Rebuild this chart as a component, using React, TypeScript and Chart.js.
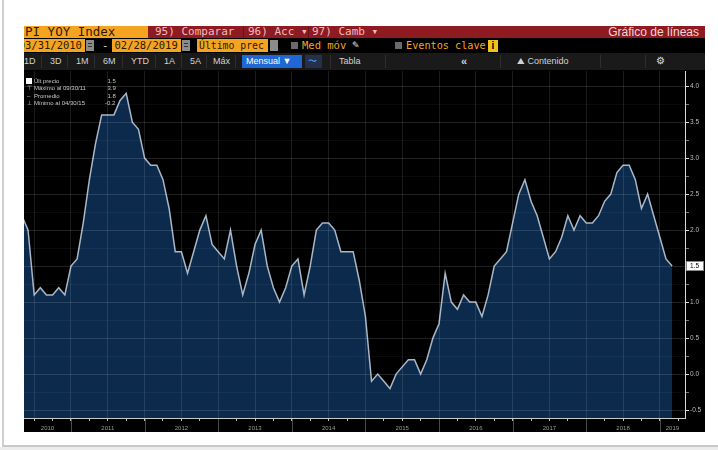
import React, { useEffect, useRef } from 'react';
import { Chart, registerables } from 'chart.js';

Chart.register(...registerables);

// US CPI YoY (%), monthly. First value = Mar 2010 (month index 2, Jan 2010 = 0)
const START_MONTH_INDEX = 2;
const cpi2010 = [2.3, 2.2, 2.0, 1.1, 1.2, 1.1, 1.1, 1.2, 1.1, 1.5];
const cpi2011 = [1.6, 2.1, 2.7, 3.2, 3.6, 3.6, 3.6, 3.8, 3.9, 3.5, 3.4, 3.0];
const cpi2012 = [2.9, 2.9, 2.7, 2.3, 1.7, 1.7, 1.4, 1.7, 2.0, 2.2, 1.8, 1.7];
const cpi2013 = [1.6, 2.0, 1.5, 1.1, 1.4, 1.8, 2.0, 1.5, 1.2, 1.0, 1.2, 1.5];
const cpi2014 = [1.6, 1.1, 1.5, 2.0, 2.1, 2.1, 2.0, 1.7, 1.7, 1.7, 1.3, 0.8];
const cpi2015 = [-0.1, 0.0, -0.1, -0.2, 0.0, 0.1, 0.2, 0.2, 0.0, 0.2, 0.5, 0.7];
const cpi2016 = [1.4, 1.0, 0.9, 1.1, 1.0, 1.0, 0.8, 1.1, 1.5, 1.6, 1.7, 2.1];
const cpi2017 = [2.5, 2.7, 2.4, 2.2, 1.9, 1.6, 1.7, 1.9, 2.2, 2.0, 2.2, 2.1];
const cpi2018 = [2.1, 2.2, 2.4, 2.5, 2.8, 2.9, 2.9, 2.7, 2.3, 2.5, 2.2, 1.9];
const cpi2019 = [1.6, 1.5];

const cpiYoY = [
  ...cpi2010, ...cpi2011, ...cpi2012, ...cpi2013, ...cpi2014,
  ...cpi2015, ...cpi2016, ...cpi2017, ...cpi2018, ...cpi2019,
];

const years = ['2010', '2011', '2012', '2013', '2014', '2015', '2016', '2017', '2018', '2019'];
const yTicks = [-0.5, -0.25, 0, 0.25, 0.5, 0.75, 1.0, 1.25, 1.5, 1.75, 2.0, 2.25, 2.5, 2.75, 3.0, 3.25, 3.5, 3.75, 4.0];

const legendRows = [
  { sym: '', label: 'Últ precio', value: '1.5' },
  { sym: '⊤', label: 'Máximo al 09/30/11', value: '3.9' },
  { sym: '–', label: 'Promedio', value: '1.8' },
  { sym: '⊥', label: 'Mínimo al 04/30/15', value: '-0.2' },
];

const X_MIN = 3.34;
const X_MAX = 111.1;
const Y_MIN = -0.61;
const Y_MAX = 4.21;

const WX = 24;
const WY = 26;
const box = (x: number, y: number, w: number, h: number, extra: React.CSSProperties = {}): React.CSSProperties => ({
  position: 'absolute', left: x - WX, top: y - WY, width: w, height: h, ...extra,
});
const txt = (x: number, y: number, extra: React.CSSProperties = {}): React.CSSProperties => ({
  position: 'absolute', left: x - WX, top: y - WY, whiteSpace: 'nowrap', ...extra,
});

const MONO = '"DejaVu Sans Mono", "Liberation Mono", monospace';
const SANS = '"Liberation Sans", Arial, sans-serif';
const ORANGE = '#f5a422';

const isMajor = (v: number) => Math.abs(v * 2 - Math.round(v * 2)) < 1e-6;

const bbgPlugin = {
  id: 'bbgDecor',
  afterDraw(chart: any) {
    const { ctx, chartArea: a } = chart;
    const x = chart.scales.x;
    const y = chart.scales.y;
    ctx.save();
    ctx.font = `6.5px ${SANS}`;
    ctx.fillStyle = '#bdbdbd';
    ctx.textBaseline = 'middle';
    ctx.textAlign = 'left';
    yTicks.filter(isMajor).forEach((v) => {
      ctx.fillText(v.toFixed(1), a.right + 5, y.getPixelForValue(v));
    });
    const last = cpiYoY[cpiYoY.length - 1];
    const py = Math.round(y.getPixelForValue(last));
    ctx.fillStyle = '#ffffff';
    ctx.fillRect(a.right + 1, py - 5, 18, 10);
    ctx.strokeStyle = '#888';
    ctx.lineWidth = 1;
    ctx.strokeRect(a.right + 1.5, py - 4.5, 17, 9);
    ctx.fillStyle = '#000';
    ctx.fillText(last.toFixed(1), a.right + 5, py + 0.5);
    ctx.strokeStyle = '#4a4a4a';
    years.forEach((_, k) => {
      const v = 11 + 12 * k;
      if (v > x.min && v < x.max) {
        const px = Math.round(x.getPixelForValue(v)) + 0.5;
        ctx.beginPath();
        ctx.moveTo(px, a.bottom + 1);
        ctx.lineTo(px, chart.height);
        ctx.stroke();
      }
    });
    ctx.font = `6px ${SANS}`;
    ctx.fillStyle = '#9a9a9a';
    ctx.textAlign = 'center';
    years.forEach((yr, k) => {
      const s = Math.max(x.min, 12 * k - 1);
      const e = Math.min(x.max, 12 * k + 11);
      if (e <= s) return;
      const cx = (x.getPixelForValue(s) + x.getPixelForValue(e)) / 2;
      ctx.fillText(yr, cx, a.bottom + 10);
    });
    ctx.restore();
  },
};

function BbgChart() {
  const ref = useRef<HTMLCanvasElement | null>(null);
  useEffect(() => {
    if (!ref.current) return;
    const points = cpiYoY.map((v, i) => ({ x: START_MONTH_INDEX + i, y: v }));
    const chart = new Chart(ref.current, {
      type: 'line',
      data: {
        datasets: [
          {
            data: points,
            borderColor: '#a9b7c7',
            borderWidth: 1.5,
            backgroundColor: '#0b2a4c',
            fill: 'start',
            pointRadius: 0,
            tension: 0,
          },
        ],
      },
      options: {
        responsive: false,
        animation: false,
        devicePixelRatio: 1,
        events: [],
        layout: { padding: 0 },
        plugins: { legend: { display: false }, tooltip: { enabled: false } },
        scales: {
          x: {
            type: 'linear',
            min: X_MIN,
            max: X_MAX,
            afterBuildTicks: (s: any) => {
              const t: { value: number }[] = [];
              for (let v = 5; v <= 110; v += 3) t.push({ value: v });
              s.ticks = t;
            },
            afterFit: (s: any) => { s.height = 14; },
            ticks: { display: false },
            grid: {
              z: 1,
              drawTicks: true,
              tickLength: 3,
              color: (c: any) => (c.tick && (c.tick.value - 5) % 6 === 0 ? 'rgba(255,255,255,0.11)' : 'rgba(0,0,0,0)'),
              tickColor: '#bdbdbd',
            },
            border: { display: true, color: '#c9c9c9', z: 2 },
          },
          y: {
            position: 'right',
            min: Y_MIN,
            max: Y_MAX,
            afterBuildTicks: (s: any) => { s.ticks = yTicks.map((v) => ({ value: v })); },
            afterFit: (s: any) => { s.width = 20; },
            ticks: { display: false },
            grid: {
              z: 1,
              drawTicks: true,
              tickLength: 4,
              color: (c: any) => (c.tick && isMajor(c.tick.value) ? 'rgba(255,255,255,0.13)' : 'rgba(255,255,255,0.045)'),
              tickColor: (c: any) => (c.tick && isMajor(c.tick.value) ? '#e0e0e0' : '#7a7a7a'),
            },
            border: { display: true, color: '#d8d8d8', z: 2 },
          },
        },
      } as any,
      plugins: [bbgPlugin],
    });
    return () => chart.destroy();
  }, []);
  return (
    <canvas
      ref={ref}
      width={681}
      height={361}
      style={{ position: 'absolute', left: 0, top: 71 - WY, width: 681, height: 361, background: '#000' }}
    />
  );
}

export default function App() {
  const sep = (x: number) => <div key={'s' + x} style={box(x, 55, 1, 13, { background: '#2e2e2e' })} />;
  const hdr: React.CSSProperties = { font: `11px ${MONO}`, lineHeight: '12px', color: '#f2bcbc' };
  return (
    <div style={{ position: 'absolute', left: 0, top: 0, width: 718, height: 450, background: '#ffffff', overflow: 'hidden' }}>
      <div style={{ position: 'absolute', left: 2, top: 0, width: 2, height: 447, background: '#cfcfcf' }} />
      <div style={{ position: 'absolute', left: 2, top: 445, width: 716, height: 2, background: '#c9c9c9' }} />
      <div style={{ position: 'absolute', left: 0, top: 447, width: 718, height: 3, background: '#ececec' }} />

      <div style={{ position: 'absolute', left: WX, top: WY, width: 681, height: 406, background: '#000', overflow: 'hidden' }}>
        {/* row 1 */}
        <div style={box(24, 26, 124, 12, { background: ORANGE })} />
        <div style={txt(17.5, 26, { font: `12.5px ${MONO}`, lineHeight: '12px', color: '#2a1a00' })}>CPI YOY Index</div>
        <div style={box(148, 26, 557, 12, { background: '#8e1a22' })} />
        <div style={txt(155, 26, hdr)}>95) Comparar</div>
        <div style={box(243, 26, 1, 12, { background: '#6a1016' })} />
        <div style={txt(248, 26, hdr)}>96) Acc ▾</div>
        <div style={box(308, 26, 1, 12, { background: '#6a1016' })} />
        <div style={txt(312, 26, hdr)}>97) Camb ▾</div>
        <div style={txt(586, 26, { font: `12px ${SANS}`, lineHeight: '12px', color: '#f4d6d6', width: 113, textAlign: 'right' })}>Gráfico de líneas</div>

        {/* row 2 */}
        <div style={box(24, 39, 61, 13, { background: ORANGE })} />
        <div style={txt(18.7, 39, { font: `10.5px ${MONO}`, lineHeight: '13px', color: '#2a1a00' })}>03/31/2010</div>
        <div style={box(86, 40, 8, 11, { background: '#8c8c8c' })} />
        <div style={box(88, 43, 4, 1, { background: '#333' })} />
        <div style={box(88, 46, 4, 1, { background: '#333' })} />
        <div style={txt(102, 39, { font: `10.5px ${MONO}`, lineHeight: '13px', color: '#e0e0e0' })}>-</div>
        <div style={box(112, 39, 69, 13, { background: ORANGE })} />
        <div style={txt(114.5, 39, { font: `10.5px ${MONO}`, lineHeight: '13px', color: '#2a1a00' })}>02/28/2019</div>
        <div style={box(182, 40, 8, 11, { background: '#8c8c8c' })} />
        <div style={box(184, 43, 4, 1, { background: '#333' })} />
        <div style={box(184, 46, 4, 1, { background: '#333' })} />
        <div style={box(197, 39, 71, 13, { background: ORANGE })} />
        <div style={txt(199, 39, { font: `9.8px ${MONO}`, lineHeight: '13px', color: '#2a1a00' })}>Último prec</div>
        <div style={box(270, 40, 8, 11, { background: '#8c8c8c' })} />
        <div style={box(291, 42, 7, 7, { background: '#6a6a6a' })} />
        <div style={txt(302, 39, { font: `10.5px ${MONO}`, lineHeight: '13px', color: ORANGE })}>Med móv</div>
        <div style={txt(352, 39, { font: `9px ${SANS}`, lineHeight: '13px', color: '#e8e8e8' })}>✎</div>
        <div style={box(395, 42, 7, 7, { background: '#6a6a6a' })} />
        <div style={txt(406, 39, { font: `10.2px ${MONO}`, lineHeight: '13px', color: ORANGE })}>Eventos clave</div>
        <div style={box(488, 40, 10, 12, { background: '#f0c419', font: `bold 10px ${SANS}`, color: '#000', textAlign: 'center', lineHeight: '12px' })}>i</div>

        {/* row 3 toolbar */}
        <div style={box(24, 53, 681, 17, { background: '#1a1a1a' })} />
        {[['1D', 24], ['3D', 50], ['1M', 76], ['6M', 103], ['YTD', 131], ['1A', 164], ['5A', 190], ['Máx', 213], ['Tabla', 339]].map(([t, x]) => (
          <div key={t as string} style={txt(x as number, 55, { font: `9px ${SANS}`, lineHeight: '13px', color: '#d2d2d2' })}>{t}</div>
        ))}
        {[41, 67, 94, 122, 155, 181, 206, 235, 330, 385, 500, 600, 645].map(sep)}
        <div style={box(242, 55, 60, 13, { background: '#1f67d2' })} />
        <div style={txt(246, 55, { font: `9px ${SANS}`, lineHeight: '13px', color: '#ffffff' })}>Mensual ▼</div>
        <div style={box(305, 55, 17, 13, { background: '#23324a' })} />
        <div style={txt(308, 55, { font: `9px ${SANS}`, lineHeight: '13px', color: '#5aa0ff' })}>〜</div>
        <div style={txt(461, 54, { font: `bold 11px ${SANS}`, lineHeight: '14px', color: '#d2d2d2' })}>«</div>
        <div style={txt(517, 55, { font: `9px ${SANS}`, lineHeight: '13px', color: '#d2d2d2' })}>⛰ Contenido</div>
        <div style={txt(656, 54, { font: `10px ${SANS}`, lineHeight: '14px', color: '#e0e0e0' })}>⚙</div>

        <BbgChart />

        {/* legend */}
        <div style={box(26, 78, 6, 6, { background: '#ffffff' })} />
        {legendRows.map((r, i) => {
          const ty = 76.5 + i * 7.6;
          return (
            <React.Fragment key={r.label}>
              {r.sym && <div style={txt(27, ty, { font: `6px ${SANS}`, lineHeight: '8px', color: '#c8c8c8' })}>{r.sym}</div>}
              <div style={txt(34, ty, { font: `6px ${SANS}`, lineHeight: '8px', color: '#c8c8c8' })}>{r.label}</div>
              <div style={txt(r.value.startsWith('-') ? 105 : 107.5, ty, { font: `6px ${SANS}`, lineHeight: '8px', color: '#c8c8c8' })}>{r.value}</div>
            </React.Fragment>
          );
        })}
      </div>
    </div>
  );
}
